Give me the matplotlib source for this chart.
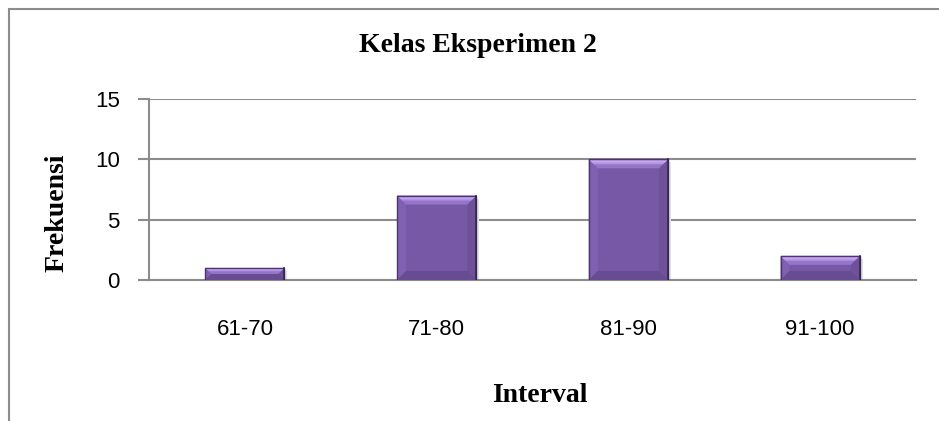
import matplotlib
matplotlib.use("Agg")
import matplotlib.pyplot as plt
from matplotlib.patches import Polygon, Rectangle
from matplotlib import font_manager

categories = ["61-70", "71-80", "81-90", "91-100"]
frekuensi = [1, 7, 10, 2]
yticks = [0, 5, 10, 15]
title = "Kelas Eksperimen 2"
xlabel = "Interval"
ylabel = "Frekuensi"

names = {f.name for f in font_manager.fontManager.ttflist}
tick_family = [n for n in ["Liberation Sans Narrow", "Liberation Sans", "DejaVu Sans"] if n in names]
serif_family = ["Liberation Serif", "DejaVu Serif"]

W, H = 939, 421
fig = plt.figure(figsize=(W / 100, H / 100), dpi=100)
fig.patch.set_facecolor("white")

# figure border (partially cropped at right/bottom)
fig.patches.append(Rectangle((9 / W, -0.1), 1.2, 1 - 9 / H + 0.1, transform=fig.transFigure,
                             fill=False, edgecolor="#8c8c8c", linewidth=1.5))

left, right = 149 / W, 916 / W
bottom, top = 1 - 280 / H, 1 - 99 / H
ax = fig.add_axes([left, bottom, right - left, top - bottom])

x = list(range(len(categories)))
body = "#7758a6"
bars = ax.bar(x, frekuensi, width=0.413, color=body, edgecolor="none", linewidth=0, zorder=3)

ax.set_xlim(-0.5, len(categories) - 0.5)
ax.set_ylim(0, 15)
ax.set_yticks(yticks)
ax.set_xticks(x)
ax.set_xticklabels(categories)
ax.yaxis.grid(True, color="#8c8c8c", linewidth=1.5, zorder=0)
ax.set_axisbelow(True)
for s in ["top", "right"]:
    ax.spines[s].set_visible(False)
for s in ["left", "bottom"]:
    ax.spines[s].set_color("#8c8c8c")
    ax.spines[s].set_linewidth(1.5)
ax.tick_params(axis="y", length=8, width=1.5, color="#8c8c8c", pad=13, labelsize=16)
ax.tick_params(axis="x", length=0, pad=28, labelsize=16)
for lab in ax.get_xticklabels() + ax.get_yticklabels():
    lab.set_family(tick_family)

# bevel effect derived from bar geometry
fig.canvas.draw()
p0 = ax.transData.transform((0, 0))
p1 = ax.transData.transform((1, 1))
px_x = p1[0] - p0[0]
px_y = p1[1] - p0[1]
for b in bars:
    x0, y0 = b.get_x(), b.get_y()
    w, h = b.get_width(), b.get_height()
    x1, y1 = x0 + w, y0 + h
    sx, sy = 3 / px_x, 3 / px_y
    # soft shadow
    ax.add_patch(Rectangle((x0 + sx * 0.5, y0), w + sx * 0.5, h - sy, facecolor="#e4e4e4",
                           edgecolor="none", zorder=2.5))
    bpx = min(9, h * px_y / 2)
    bx, by = bpx / px_x, bpx / px_y
    # sides
    ax.add_patch(Polygon([(x0, y0), (x0 + bx, y0 + by), (x0 + bx, y1 - by), (x0, y1)],
                         closed=True, facecolor="#8060b1", edgecolor="none", zorder=4))
    ax.add_patch(Polygon([(x1, y0), (x1 - bx, y0 + by), (x1 - bx, y1 - by), (x1, y1)],
                         closed=True, facecolor="#6e5199", edgecolor="none", zorder=4))
    # bottom
    ax.add_patch(Polygon([(x0, y0), (x1, y0), (x1 - bx, y0 + by), (x0 + bx, y0 + by)],
                         closed=True, facecolor="#684c92", edgecolor="none", zorder=4))
    # top bevel, graded tones
    ax.add_patch(Polygon([(x0, y1), (x1, y1), (x1 - bx, y1 - by), (x0 + bx, y1 - by)],
                         closed=True, facecolor="#9575c8", edgecolor="none", zorder=4))
    ax.add_patch(Polygon([(x0, y1), (x1, y1), (x1 - bx * 0.55, y1 - by * 0.55), (x0 + bx * 0.55, y1 - by * 0.55)],
                         closed=True, facecolor="#b294e2", edgecolor="none", zorder=4.1))
    ax.add_patch(Polygon([(x0 + bx * 0.1, y1 - by * 0.1), (x1 - bx * 0.1, y1 - by * 0.1),
                          (x1 - bx * 0.35, y1 - by * 0.35), (x0 + bx * 0.35, y1 - by * 0.35)],
                         closed=True, facecolor="#c4a8ef", edgecolor="none", zorder=4.2))
    # outline
    ax.plot([x0, x0, x1, x1], [y0, y1, y1, y0], color="#4a3570", linewidth=1.0, zorder=5)
    ax.plot([x1, x1], [y0, y1], color="#36264f", linewidth=1.2, zorder=5)

fig.text(478 / W, 1 - 45 / H, title, ha="center", va="center", family=serif_family,
         fontweight="bold", fontsize=20)
fig.text(540 / W, 1 - 395 / H, xlabel, ha="center", va="center", family=serif_family,
         fontweight="bold", fontsize=20)
fig.text(57 / W, 1 - 213 / H, ylabel, ha="center", va="center", rotation=90, family=serif_family,
         fontweight="bold", fontsize=20)

fig.savefig("out.png", dpi=100, facecolor="white")
